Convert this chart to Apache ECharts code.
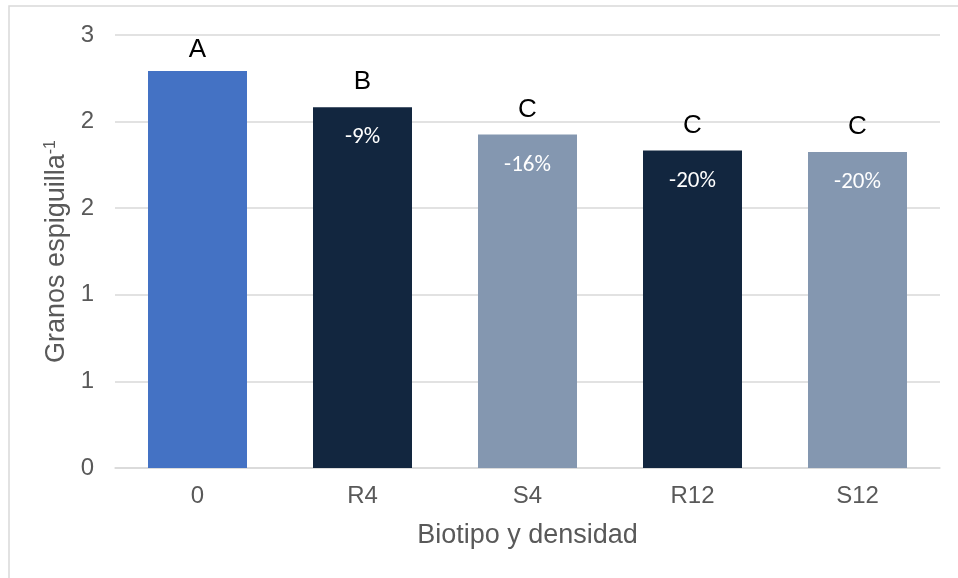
<!DOCTYPE html>
<html>
<head>
<meta charset="utf-8">
<script src="https://cdn.jsdelivr.net/npm/echarts@6/dist/echarts.min.js"></script>
<style>
  html, body { margin: 0; padding: 0; background: #fff; overflow: hidden; }
  #chart { width: 958px; height: 578px; }
</style>
</head>
<body>
<div id="chart"></div>
<script>
// Granos por espiguilla según biotipo y densidad
const categories = ['0', 'R4', 'S4', 'R12', 'S12'];
const values = [2.75, 2.50, 2.31, 2.20, 2.19];
const letters = ['A', 'B', 'C', 'C', 'C'];
const barColors = ['#4472C4', '#12263F', '#8497B0', '#12263F', '#8497B0'];
const yTicks = { min: 0, max: 3, interval: 0.6 };

// reduction relative to the control (first category)
const pct = values.map((v, i) => i === 0 ? '' : Math.round((v / values[0] - 1) * 100) + '%');

const chart = echarts.init(document.getElementById('chart'));
const font = 'Liberation Sans, Arial, sans-serif';
const narrow = 'Carlito, Liberation Sans Narrow, DejaVu Sans Condensed, sans-serif';

chart.setOption({
  backgroundColor: '#fff',
  animation: false,
  graphic: [{
    type: 'rect',
    shape: { x: 9, y: 6, width: 1000, height: 700 },
    style: { fill: 'none', stroke: '#d9d9d9', lineWidth: 1.5 },
    silent: true
  }],
  grid: { left: 115, right: 18, top: 35, bottom: 110 },
  xAxis: {
    type: 'category',
    data: categories,
    name: 'Biotipo y densidad',
    nameLocation: 'middle',
    nameGap: 54,
    nameTextStyle: { fontFamily: font, fontSize: 27, color: '#595959' },
    axisLine: { lineStyle: { color: '#d9d9d9', width: 1.5 } },
    axisTick: { show: false },
    axisLabel: { fontFamily: font, fontSize: 24, color: '#595959', margin: 16 }
  },
  yAxis: {
    type: 'value',
    min: yTicks.min,
    max: yTicks.max,
    interval: yTicks.interval,
    name: 'Granos espiguilla{sup|-1}',
    nameLocation: 'middle',
    nameGap: 41,
    nameTextStyle: {
      fontFamily: font, fontSize: 27, color: '#595959',
      rich: { sup: { fontFamily: font, fontSize: 16, color: '#595959', padding: [0, 0, 12, 0] } }
    },
    axisLine: { show: false },
    axisTick: { show: false },
    splitLine: { lineStyle: { color: '#d9d9d9', width: 1.5 } },
    axisLabel: {
      fontFamily: font, fontSize: 24, color: '#595959', margin: 21,
      formatter: v => String(Math.round(v))
    }
  },
  series: [
    {
      type: 'bar',
      data: values.map((v, i) => ({
        value: v,
        itemStyle: { color: barColors[i] },
        label: i === 0 ? { distance: 8 } : undefined
      })),
      barCategoryGap: '40%',
      barGap: '-100%',
      label: {
        show: true, position: 'top', distance: 12,
        fontFamily: font, fontSize: 26, color: '#000',
        formatter: p => letters[p.dataIndex]
      },
      silent: true
    },
    {
      type: 'bar',
      data: values,
      barCategoryGap: '40%',
      barGap: '-100%',
      itemStyle: { color: 'rgba(0,0,0,0)' },
      label: {
        show: true, position: 'insideTop', distance: 19,
        fontFamily: narrow, fontSize: 23, color: '#fff',
        formatter: p => pct[p.dataIndex]
      },
      silent: true
    }
  ]
});
</script>
</body>
</html>
